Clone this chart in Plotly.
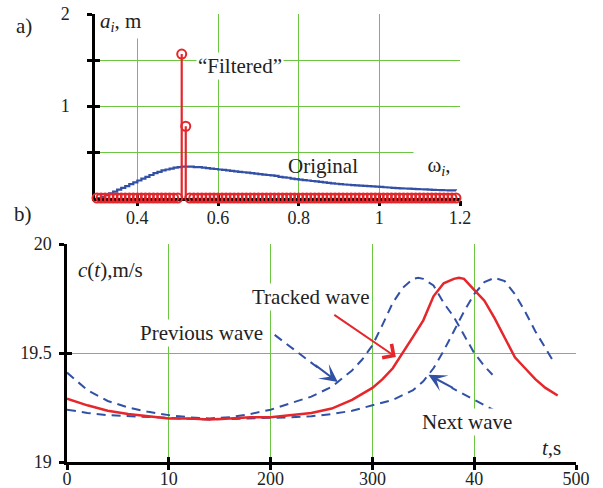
import plotly.graph_objects as go

W, H = 603, 488

# ---------------- panel a data ----------------
omega = [0.30, 0.31, 0.32, 0.33, 0.34, 0.35, 0.36, 0.37, 0.38, 0.39,
         0.40, 0.41, 0.42, 0.43, 0.44, 0.45, 0.46, 0.47, 0.48, 0.49,
         0.50, 0.51, 0.52, 0.53, 0.54, 0.55, 0.56, 0.57, 0.58, 0.59,
         0.60, 0.61, 0.62, 0.63, 0.64, 0.65, 0.66, 0.67, 0.68, 0.69,
         0.70, 0.71, 0.72, 0.73, 0.74, 0.75, 0.76, 0.77, 0.78, 0.79,
         0.80, 0.81, 0.82, 0.83, 0.84, 0.85, 0.86, 0.87, 0.88, 0.89,
         0.90, 0.91, 0.92, 0.93, 0.94, 0.95, 0.96, 0.97, 0.98, 0.99,
         1.00, 1.01, 1.02, 1.03, 1.04, 1.05, 1.06, 1.07, 1.08, 1.09,
         1.10, 1.11, 1.12, 1.13, 1.14, 1.15, 1.16, 1.17, 1.18, 1.19]
original = [0.00, 0.01, 0.03, 0.05, 0.07, 0.09, 0.11, 0.13, 0.15, 0.17,
            0.19, 0.21, 0.23, 0.25, 0.27, 0.285, 0.30, 0.31, 0.32, 0.33,
            0.335, 0.34, 0.34, 0.34, 0.335, 0.335, 0.33, 0.325, 0.32, 0.315,
            0.31, 0.305, 0.30, 0.295, 0.29, 0.285, 0.28, 0.275, 0.27, 0.265,
            0.26, 0.255, 0.25, 0.245, 0.24, 0.23, 0.225, 0.22, 0.21, 0.205,
            0.20, 0.195, 0.19, 0.185, 0.18, 0.175, 0.17, 0.165, 0.16, 0.155,
            0.15, 0.147, 0.144, 0.141, 0.138, 0.135, 0.132, 0.129, 0.126, 0.123,
            0.12, 0.117, 0.114, 0.111, 0.108, 0.105, 0.103, 0.101, 0.099, 0.097,
            0.095, 0.093, 0.091, 0.089, 0.087, 0.085, 0.084, 0.083, 0.082, 0.081]
filtered = [0.0] * 21 + [1.565, 0.78] + [0.0] * 67

a_xticks = [0.4, 0.6, 0.8, 1.0, 1.2]
a_xticktext = ["0.4", "0.6", "0.8", "1", "1.2"]
a_yticks = [0.5, 1.0, 1.5, 2.0]
a_yticktext = ["", "1", "", "2"]

# ---------------- panel b data ----------------
t_tracked = [0, 20, 40, 60, 80, 100, 120, 140, 160, 180, 200, 220, 240, 260, 280,
             300, 310, 320, 330, 340, 350, 360, 370, 380, 385, 390, 400, 410, 420,
             430, 440, 450, 460, 470, 482]
c_tracked = [19.29, 19.26, 19.235, 19.22, 19.21, 19.20, 19.20, 19.195, 19.20, 19.205,
             19.205, 19.215, 19.225, 19.245, 19.285, 19.34, 19.38, 19.43, 19.50, 19.575,
             19.65, 19.76, 19.82, 19.84, 19.845, 19.84, 19.79, 19.74, 19.66, 19.57,
             19.48, 19.43, 19.38, 19.34, 19.305]

t_prev = [0, 20, 40, 60, 80, 100, 120, 140, 160, 180, 200, 220, 240, 260, 280, 290,
          300, 310, 320, 330, 340, 345, 350, 360, 370, 380, 390, 400, 410, 418]
c_prev = [19.41, 19.33, 19.28, 19.25, 19.23, 19.215, 19.205, 19.20, 19.205, 19.22,
          19.24, 19.27, 19.30, 19.345, 19.42, 19.47, 19.535, 19.63, 19.73, 19.80,
          19.84, 19.845, 19.84, 19.81, 19.73, 19.665, 19.58, 19.50, 19.44, 19.40]

t_next = [0, 20, 40, 60, 80, 100, 120, 140, 160, 180, 200, 220, 240, 260, 280, 300,
          320, 340, 350, 360, 370, 380, 390, 400, 410, 420, 430, 440, 450, 460, 470, 478]
c_next = [19.24, 19.225, 19.215, 19.21, 19.205, 19.20, 19.198, 19.195, 19.197, 19.20,
          19.20, 19.205, 19.21, 19.22, 19.235, 19.26, 19.285, 19.33, 19.37, 19.43,
          19.51, 19.60, 19.69, 19.77, 19.825, 19.845, 19.83, 19.77, 19.69, 19.60,
          19.52, 19.46]

b_xticks = [0, 100, 200, 300, 400, 500]
b_xticktext = ["0", "10", "200", "300", "40", "500"]
b_yticks = [19.0, 19.5, 20.0]
b_yticktext = ["19", "19.5", "20"]

# ---------------- styling ----------------
RED = "#e5262b"
BLUE = "#3150a6"
GREEN = "#6cc644"
FONT = "Liberation Serif"
FS = 18      # tick labels
FA = 21      # annotation labels
TXT = "#222"


def px(x):
    return x / W


def py(y):
    return 1 - y / H


fig = go.Figure()

# panel a
fig.add_trace(go.Scatter(x=omega, y=original, mode="lines", line=dict(color=BLUE, width=2.2, shape="hv"),
                         xaxis="x", yaxis="y", cliponaxis=False, showlegend=False))
fig.add_trace(go.Scatter(x=omega, y=filtered, mode="markers",
                         marker=dict(symbol="circle-open", size=9, color=RED, line=dict(width=2, color=RED)),
                         error_y=dict(type="data", symmetric=False, array=[0] * len(filtered),
                                      arrayminus=filtered, color=RED, thickness=2.2, width=0),
                         xaxis="x", yaxis="y", cliponaxis=False, showlegend=False))

# panel b
fig.add_trace(go.Scatter(x=t_prev, y=c_prev, mode="lines", line=dict(color=BLUE, width=2, dash="9px,6px"),
                         xaxis="x2", yaxis="y2", showlegend=False))
fig.add_trace(go.Scatter(x=t_next, y=c_next, mode="lines", line=dict(color=BLUE, width=2, dash="9px,6px"),
                         xaxis="x2", yaxis="y2", showlegend=False))
fig.add_trace(go.Scatter(x=t_tracked, y=c_tracked, mode="lines", line=dict(color=RED, width=2.5),
                         xaxis="x2", yaxis="y2", showlegend=False))

# empty traces that bring up overlay axes (inside half of the crossing tick marks)
fig.add_trace(go.Scatter(x=[], y=[], xaxis="x3", yaxis="y3", showlegend=False, hoverinfo="skip"))
fig.add_trace(go.Scatter(x=[], y=[], xaxis="x4", yaxis="y4", showlegend=False, hoverinfo="skip"))

axis_common = dict(showline=True, linecolor="black", linewidth=2.5, ticks="outside", tickcolor="black",
                   tickwidth=2.5, ticklen=5, showgrid=True, gridcolor=GREEN, gridwidth=1.3,
                   zeroline=False, layer="below traces", automargin=False,
                   tickfont=dict(family=FONT, size=FS, color=TXT))
overlay_common = dict(showline=False, ticks="inside", tickcolor="black", tickwidth=2.5, ticklen=5,
                      showgrid=False, zeroline=False, showticklabels=False, layer="below traces",
                      automargin=False)

fig.update_layout(
    width=W, height=H, margin=dict(l=0, r=0, t=0, b=0, pad=0, autoexpand=False), autosize=False,
    paper_bgcolor="white", plot_bgcolor="white",
    font=dict(family=FONT, size=FS, color=TXT),
    xaxis=dict(domain=[px(95), px(460)], range=[0.295, 1.2], anchor="y", tickmode="array",
               tickvals=a_xticks, ticktext=a_xticktext, ticklabelstandoff=-3, **axis_common),
    yaxis=dict(domain=[py(198), py(14)], range=[0, 2], anchor="x", tickmode="array",
               tickvals=a_yticks, ticktext=a_yticktext, ticklabelstandoff=14, **axis_common),
    xaxis2=dict(domain=[px(67), px(576)], range=[0, 500], anchor="y2", tickmode="array",
                tickvals=b_xticks, ticktext=b_xticktext, ticklabelstandoff=-6, **axis_common),
    yaxis2=dict(domain=[py(462), py(244)], range=[19, 20], anchor="x2", tickmode="array",
                tickvals=b_yticks, ticktext=b_yticktext, ticklabelstandoff=4, **axis_common),
    xaxis3=dict(overlaying="x", anchor="y3", range=[0.295, 1.2], tickmode="array",
                tickvals=a_xticks, **overlay_common),
    yaxis3=dict(overlaying="y", anchor="x3", range=[0, 2], tickmode="array",
                tickvals=a_yticks, **overlay_common),
    xaxis4=dict(overlaying="x2", anchor="y4", range=[0, 500], tickmode="array",
                tickvals=b_xticks, **overlay_common),
    yaxis4=dict(overlaying="y2", anchor="x4", range=[19, 20], tickmode="array",
                tickvals=b_yticks, **overlay_common),
)

ann = []


def label(text, x, y, bg=None, size=FA, **kw):
    d = dict(text=text, x=px(x), y=py(y), xref="paper", yref="paper", showarrow=False,
             xanchor="center", yanchor="middle",
             font=dict(family=FONT, size=size, color=TXT))
    if bg:
        d["bgcolor"] = bg
        d["borderpad"] = 1
    d.update(kw)
    ann.append(d)


label("a)", 24, 26)
label("b)", 23, 214)
label("<i>a</i><sub><i>i</i></sub>, m", 98, 22, bg="white", xanchor="left", width=74, height=30, align="left")
label("“Filtered”", 240, 66, bg="white")
label("Original", 323, 166)
label("ω<sub><i>i</i></sub>,", 439, 166, bg="white", width=48, height=34)

label("<i>c</i>(<i>t</i>),m/s", 110, 270)
label("Tracked wave", 311, 297, bg="white")
label("Previous wave", 201, 333, bg="white")
label("Next wave", 467, 422, bg="white")
label("<i>t</i>,s", 551, 448)

# arrows in panel b
ann.append(dict(x=323, y=19.482, xref="x2", yref="y2", ax=-63, ay=-43, showarrow=True,
                arrowhead=4, arrowsize=1.6, arrowwidth=2, arrowcolor=RED, text=""))
ann.append(dict(x=266, y=19.367, xref="x2", yref="y2", ax=-24, ay=-18, showarrow=True,
                arrowhead=3, arrowsize=1.5, arrowwidth=2, arrowcolor=BLUE, text=""))
ann.append(dict(x=355, y=19.40, xref="x2", yref="y2", ax=26, ay=14, showarrow=True,
                arrowhead=3, arrowsize=1.5, arrowwidth=2, arrowcolor=BLUE, text=""))
fig.update_layout(annotations=ann)

fig.add_shape(type="line", xref="x2", yref="y2", x0=204, y0=19.583, x1=250, y1=19.42,
              line=dict(color=BLUE, width=2, dash="9px,6px"))
fig.add_shape(type="line", xref="x2", yref="y2", x0=422, y0=19.231, x1=378, y1=19.34,
              line=dict(color=BLUE, width=2, dash="9px,6px"))

fig.write_html("out.html")
